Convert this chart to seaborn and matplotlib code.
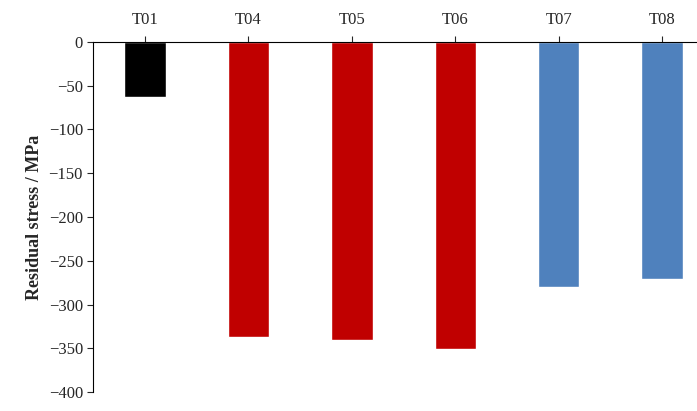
import matplotlib
matplotlib.use("Agg")
import matplotlib.pyplot as plt
import seaborn as sns
import pandas as pd

# Residual stress per sample
samples = ["T01", "T04", "T05", "T06", "T07", "T08"]
stress = [-63, -337, -340, -351, -280, -271]
colors = ["#000000", "#C00000", "#C00000", "#C00000", "#4F81BD", "#4F81BD"]

df = pd.DataFrame({"sample": samples, "stress": stress})

sns.set_style("white")
plt.rcParams["font.family"] = ["Liberation Serif", "DejaVu Serif"]

fig = plt.figure(figsize=(6.97, 4.11), dpi=100)
ax = fig.add_axes([0.134, 0.046, 0.89, 0.852])

sns.barplot(data=df, x="sample", y="stress", hue="sample", palette=colors,
            width=0.4, saturation=1, legend=False, ax=ax)

ax.set_ylim(-400, 0)
ax.set_yticks(range(-400, 1, 50))
ax.tick_params(axis="y", labelsize=12, direction="out", length=4, left=True)
ax.xaxis.tick_top()
ax.tick_params(axis="x", labelsize=12, top=True, direction="out", length=4, pad=6)
ax.set_xlabel("")
ax.set_ylabel("Residual stress / MPa", fontsize=13, fontweight="bold")
for s in ["right", "bottom"]:
    ax.spines[s].set_visible(False)
for s in ["top", "left"]:
    ax.spines[s].set_color("black")
    ax.spines[s].set_linewidth(0.8)

fig.savefig("out.png", dpi=100)
